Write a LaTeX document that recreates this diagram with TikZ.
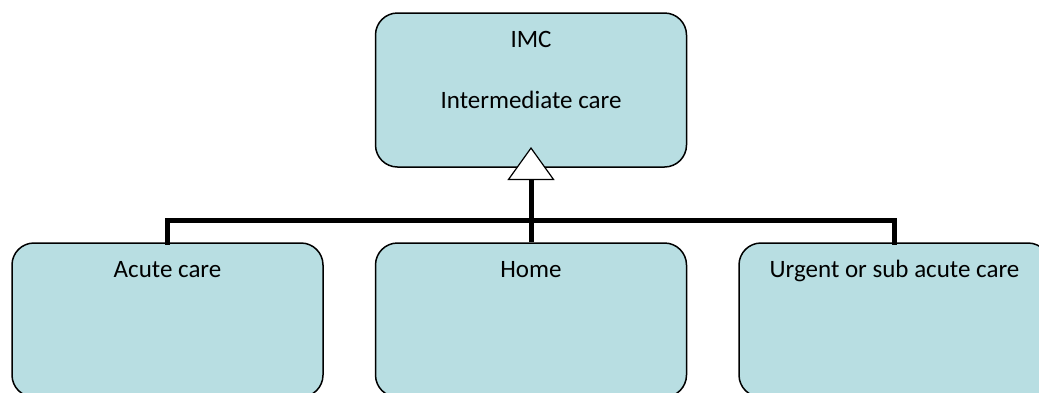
\documentclass[tikz,border=0pt]{standalone}
\usepackage{fontspec}
\setmainfont{Carlito}
\usetikzlibrary{arrows.meta}
\definecolor{boxfill}{RGB}{184,222,226}
\begin{document}
\begin{tikzpicture}[x=1pt,y=-1pt,
  box/.style={draw=black, line width=1.5pt, fill=boxfill, rounded corners=22pt,
    minimum width=311pt, minimum height=154pt, inner sep=0pt},
  lbl/.style={anchor=base, font=\fontsize{25}{30}\selectfont, inner sep=0pt},
  bar/.style={draw=black, line width=5pt}]
\useasboundingbox (0,0) rectangle (1039,392);
\node[box] (top) at (531,90) {};
\node[box] (left) at (167.5,320) {};
\node[box] (mid) at (531,320) {};
\node[box] (right) at (894.5,320) {};
\node[lbl] (t1) at (531,47) {IMC};
\node[lbl] (t2) at (531,108) {Intermediate care};
\node[lbl] (l1) at (167.5,277) {Acute care};
\node[lbl] (m1) at (531,277) {Home};
\node[lbl] (r1) at (894.5,277) {Urgent or sub acute care};
\coordinate (junc) at (531,220);
\coordinate (tip) at (531,147);
\draw[bar, line cap=rect] (left.north) |- (junc);
\draw[bar, line cap=rect] (right.north) |- (junc);
\draw[bar] (mid.north) -- (junc);
\draw[bar, -{Triangle[length=33pt, width=47pt, line width=1.2pt, fill=white]}] (junc) -- (tip);
\end{tikzpicture}
\end{document}
